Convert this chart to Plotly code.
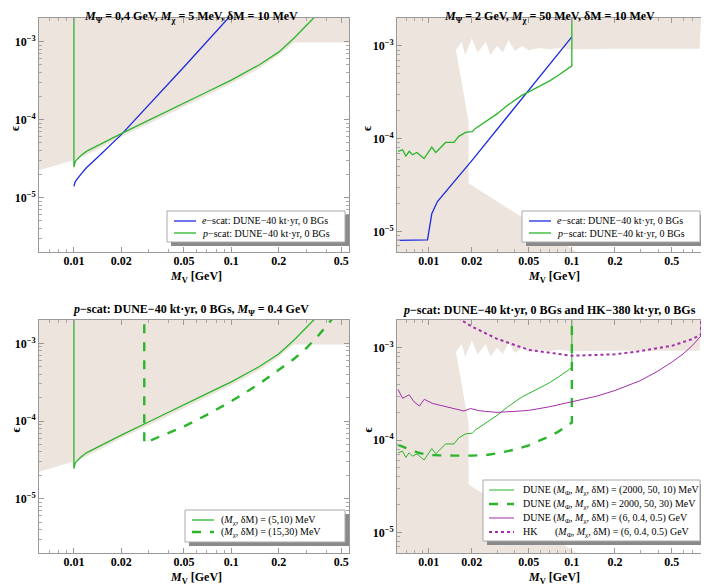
import math
import plotly.graph_objects as go

# ---------------- data ----------------
# panel 1: M_Psi = 0.4 GeV, M_chi = 5 MeV, dM = 10 MeV
e1_x = [0.01, 0.0102, 0.011, 0.012, 0.014, 0.017, 0.02, 0.05, 0.1, 0.12]
e1_y = [1.39e-5, 1.6e-5, 1.95e-5, 2.4e-5, 3.2e-5, 4.6e-5, 6.4e-5, 4.7e-4, 2.2e-3, 3.3e-3]
p1_x = [0.01, 0.01, 0.0102, 0.011, 0.012, 0.014, 0.017, 0.02, 0.03, 0.05, 0.07, 0.1,
        0.15, 0.2, 0.25, 0.3, 0.35, 0.4]
p1_y = [3e-3, 2.45e-5, 2.9e-5, 3.4e-5, 3.9e-5, 4.6e-5, 5.6e-5, 6.6e-5, 9.8e-5, 1.6e-4,
        2.25e-4, 3.2e-4, 5.0e-4, 7.3e-4, 1.1e-3, 1.6e-3, 2.2e-3, 2.9e-3]

# panel 2: M_Psi = 2 GeV, M_chi = 50 MeV, dM = 10 MeV
e2_x = [0.0055, 0.0098, 0.0105, 0.0115, 0.02, 0.05, 0.1]
e2_y = [8.0e-6, 8.1e-6, 1.55e-5, 2.1e-5, 5.8e-5, 3.3e-4, 1.25e-3]
p2_x = [0.0061, 0.00656, 0.00692, 0.0073, 0.0077, 0.00826, 0.00928, 0.0105, 0.0112,
        0.0131, 0.015, 0.0162, 0.0181, 0.0201, 0.0212, 0.0249, 0.03, 0.035, 0.04, 0.045,
        0.05, 0.06, 0.07, 0.08, 0.09, 0.1, 0.1]
p2_y = [7.3e-5, 7.6e-5, 6.5e-5, 7.3e-5, 6.7e-5, 7.1e-5, 6.1e-5, 8.1e-5, 7.1e-5,
        9.1e-5, 9.1e-5, 1.06e-4, 1.17e-4, 1.19e-4, 1.29e-4, 1.52e-4, 1.85e-4, 2.25e-4,
        2.6e-4, 2.95e-4, 3.2e-4, 3.7e-4, 4.2e-4, 4.8e-4, 5.4e-4, 6.1e-4, 3e-3]

# panel 3: p-scat, M_Psi = 0.4 GeV, (M_chi, dM) = (15, 30) MeV
d3_x = [0.028, 0.028, 0.035, 0.05, 0.07, 0.1, 0.15, 0.2, 0.25, 0.3, 0.35, 0.4, 0.45, 0.5]
d3_y = [3e-3, 5.2e-5, 6.3e-5, 8.5e-5, 1.2e-4, 1.8e-4, 3.0e-4, 4.5e-4, 6.3e-4, 8.7e-4,
        1.2e-3, 1.65e-3, 2.2e-3, 2.9e-3]

# panel 4: DUNE (2000, 50, 30) MeV dashed, DUNE / HK (6, 0.4, 0.5) GeV
d4_x = [0.0061, 0.0068, 0.0075, 0.0085, 0.01, 0.012, 0.015, 0.02, 0.025, 0.03, 0.04,
        0.05, 0.06, 0.07, 0.08, 0.09, 0.1, 0.1]
d4_y = [8.9e-5, 8.3e-5, 7.8e-5, 7.3e-5, 6.9e-5, 6.8e-5, 6.8e-5, 6.8e-5, 6.9e-5, 7.2e-5,
        7.9e-5, 8.8e-5, 9.9e-5, 1.1e-4, 1.23e-4, 1.38e-4, 1.55e-4, 3e-3]
m4_x = [0.0061, 0.00656, 0.0073, 0.0079, 0.0086, 0.0093, 0.0106, 0.0124, 0.0146, 0.0176,
        0.0196, 0.0223, 0.0249, 0.03, 0.04, 0.05, 0.07, 0.1, 0.15, 0.2, 0.3, 0.4, 0.5,
        0.6, 0.7, 0.8, 0.8]
m4_y = [3.55e-4, 2.84e-4, 3.1e-4, 2.6e-4, 2.34e-4, 2.77e-4, 2.5e-4, 2.36e-4, 2.25e-4,
        2.07e-4, 2.2e-4, 2.09e-4, 2.05e-4, 2.0e-4, 2.05e-4, 2.1e-4, 2.3e-4, 2.6e-4,
        3.0e-4, 3.45e-4, 4.4e-4, 5.6e-4, 7.0e-4, 8.6e-4, 1.07e-3, 1.35e-3, 3e-3]
hk_x = [0.016, 0.02, 0.03, 0.05, 0.1, 0.2, 0.3, 0.5, 0.7, 0.8, 0.8]
hk_y = [2.1e-3, 1.7e-3, 1.25e-3, 9.5e-4, 8.2e-4, 8.5e-4, 9.2e-4, 1.05e-3, 1.25e-3,
        1.4e-3, 3e-3]

# existing limits (shaded)
bg1_x = [0.005, 0.01, 0.0105, 0.013, 0.02, 0.03, 0.05, 0.07, 0.1, 0.15, 0.2, 0.25, 0.7, 0.7, 0.005]
bg1_y = [2.0e-5, 3.0e-5, 3.1e-5, 3.8e-5, 6.0e-5, 8.8e-5, 1.45e-4, 2.05e-4, 2.9e-4,
         4.5e-4, 6.7e-4, 9.7e-4, 9.7e-4, 3e-3, 3e-3]
free_x = [0.0155, 0.017, 0.018, 0.02, 0.022, 0.025, 0.027, 0.03, 0.033, 0.036, 0.04,
          0.045, 0.05, 0.06, 0.07, 0.08, 0.1, 0.15, 0.2, 0.3, 0.5, 0.7, 0.78, 0.8, 0.82,
          1.0, 1.0, 0.13, 0.019, 0.019, 0.017]
free_y = [9e-4, 1.1e-3, 8e-4, 1.2e-3, 8.5e-4, 1.1e-3, 8e-4, 1.0e-3, 8.5e-4, 1.15e-3,
          8.8e-4, 1.0e-3, 9e-4, 9.5e-4, 9.2e-4, 9.5e-4, 9.2e-4, 9.3e-4, 9.3e-4, 9.3e-4,
          9.3e-4, 9.3e-4, 9.3e-4, 1.8e-3, 9.3e-4, 9.3e-4, 5e-6, 5e-6, 3.3e-5, 1.5e-4, 4e-4]

xticks = [0.01, 0.02, 0.05, 0.1, 0.2, 0.5]
yticks = [1e-5, 1e-4, 1e-3]
ylabels = ["10<sup>−5</sup>", "10<sup>−4</sup>", "10<sup>−3</sup>"]

BEIGE = "#EDE4DD"
BLUE = "#1C2BE0"
GREEN = "#2BB52B"
PURPLE = "#A12FA8"
FONT = "Liberation Serif"

fig = go.Figure()

def shade(ax, xs, ys, color):
    fig.add_trace(go.Scatter(x=xs, y=ys, fill="toself", fillcolor=color, mode="lines",
                             line=dict(width=0), hoverinfo="skip", showlegend=False,
                             xaxis="x" + ax, yaxis="y" + ax))

def curve(ax, xs, ys, color, name, dash="solid", width=1.3):
    fig.add_trace(go.Scatter(x=xs, y=ys, mode="lines", name=name, showlegend=False,
                             line=dict(color=color, width=width, dash=dash),
                             xaxis="x" + ax, yaxis="y" + ax))
    return dict(name=name, color=color, dash=dash, width=width)

full_x = [0.005, 1.0, 1.0, 0.005]
full_y = [5e-6, 5e-6, 3e-3, 3e-3]

ESCAT = "<i>e</i>−scat: DUNE−40 kt·yr, 0 BGs"
PSCAT = "<i>p</i>−scat: DUNE−40 kt·yr, 0 BGs"
TUPLE = "(<i>M</i><sub>Φ</sub>, <i>M</i><sub>χ</sub>, δM)"

# panel 1
shade("", bg1_x, bg1_y, BEIGE)
leg1 = [curve("", e1_x, e1_y, BLUE, ESCAT), curve("", p1_x, p1_y, GREEN, PSCAT)]
# panel 2
shade("2", full_x, full_y, BEIGE)
shade("2", free_x, free_y, "white")
leg2 = [curve("2", e2_x, e2_y, BLUE, ESCAT), curve("2", p2_x, p2_y, GREEN, PSCAT)]
# panel 3
shade("3", bg1_x, bg1_y, BEIGE)
leg3 = [curve("3", p1_x, p1_y, GREEN, "(<i>M</i><sub>χ</sub>, δM) = (5,10) MeV"),
        curve("3", d3_x, d3_y, GREEN, "(<i>M</i><sub>χ</sub>, δM) = (15,30) MeV",
              dash="dash", width=2.4)]
# panel 4
shade("4", full_x, full_y, BEIGE)
shade("4", free_x, free_y, "white")
leg4 = [curve("4", p2_x, p2_y, GREEN, "DUNE " + TUPLE + " = (2000, 50, 10) MeV", width=1),
        curve("4", d4_x, d4_y, GREEN, "DUNE " + TUPLE + " = 2000, 50, 30) MeV",
              dash="dash", width=2.4),
        curve("4", m4_x, m4_y, PURPLE, "DUNE " + TUPLE + " = (6, 0.4, 0.5) GeV", width=1),
        curve("4", hk_x, hk_y, PURPLE, "HK" + "\u00a0" * 7 + TUPLE + " = (6, 0.4, 0.5) GeV",
              dash="dot", width=2)]

W, H = 709, 586
OFF = 8  # the page body adds an 8 px margin around the figure
def px(x):
    return (x - OFF) / W
def py(y):
    return 1 - (y - OFF) / H

cols = [(39, 349), (397, 707)]
rows = [(18, 252), (320, 553)]
xr_left = [0.006, 0.56]
xr_right = [0.006, 0.88]
yr_left = [2e-6, 2e-3]
yr_right = [6e-6, 2e-3]

minor_x = [0.006, 0.007, 0.008, 0.009, 0.03, 0.04, 0.06, 0.07, 0.08, 0.09,
           0.3, 0.4, 0.6, 0.7, 0.8, 0.9]
minor_y = [m * 10.0 ** k for k in range(-6, -2) for m in range(2, 10)]

def axis_pair(n, col, row, xr, yr):
    tf = dict(family=FONT, size=12, color="black", weight="bold")
    common = dict(type="log", tickmode="array", ticks="inside", ticklen=5,
                  tickcolor="#999", showline=True, linecolor="#999", mirror="ticks",
                  showgrid=False, zeroline=False, tickfont=tf, automargin=False)
    xa = dict(common, range=[math.log10(xr[0]), math.log10(xr[1])],
              domain=[px(cols[col][0]), px(cols[col][1])], anchor="y" + n,
              tickvals=xticks, ticktext=[str(t) for t in xticks], ticklabelstandoff=-2,
              minor=dict(tickvals=minor_x, ticks="inside", ticklen=3, tickcolor="#aaa"))
    ya = dict(common, range=[math.log10(yr[0]), math.log10(yr[1])],
              domain=[py(rows[row][1]), py(rows[row][0])], anchor="x" + n,
              tickvals=yticks, ticktext=ylabels,
              minor=dict(tickvals=minor_y, ticks="inside", ticklen=3, tickcolor="#aaa"))
    return xa, ya

layout = {}
for n, col, row, xr, yr in [("", 0, 0, xr_left, yr_left), ("2", 1, 0, xr_right, yr_right),
                            ("3", 0, 1, xr_left, yr_left), ("4", 1, 1, xr_right, yr_right)]:
    xa, ya = axis_pair(n, col, row, xr, yr)
    layout["xaxis" + n] = xa
    layout["yaxis" + n] = ya

titles = [
    "<i>M</i><sub>Ψ</sub> = 0.4 GeV, <i>M</i><sub>χ</sub> = 5 MeV, δM = 10 MeV",
    "<i>M</i><sub>Ψ</sub> = 2 GeV, <i>M</i><sub>χ</sub> = 50 MeV, δM = 10 MeV",
    "<i>p</i>−scat: DUNE−40 kt·yr, 0 BGs, <i>M</i><sub>Ψ</sub> = 0.4 GeV",
    "<i>p</i>−scat: DUNE−40 kt·yr, 0 BGs and HK−380 kt·yr, 0 BGs",
]
annots = []
shapes = []
def label(text, x, y, angle=0, size=12, anchor="center"):
    annots.append(dict(text=text, x=px(x), y=py(y), xref="paper", yref="paper",
                       xanchor=anchor, yanchor="middle", showarrow=False,
                       textangle=angle, font=dict(family=FONT, size=size, color="black")))

for i, t in enumerate(titles):
    c, r = cols[i % 2], rows[i // 2]
    # the top titles can not sit higher than the page margin allows
    label("<b>" + t + "</b>", (c[0] + c[1]) / 2 - 3, 17 if i < 2 else r[0] - 10)
    label("<b><i>M</i><sub>V</sub> [GeV]</b>", (c[0] + c[1]) / 2 + 2, r[1] + 25)
    label("<b>ϵ</b>", c[0] - (24 if i % 2 == 0 else 30), (r[0] + r[1]) / 2 - 6, -90)

# legend boxes drawn like the original (white box, grey border, drop shadow)
def legend_box(box, row_y, line_x, text_x, entries):
    x0, y0, x1, y1 = box
    shapes.append(dict(type="rect", xref="paper", yref="paper", layer="above",
                       x0=px(x0 + 4), x1=px(x1 + 4), y0=py(y1 + 4), y1=py(y0 + 4),
                       fillcolor="#8a8a8a", line=dict(width=0)))
    shapes.append(dict(type="rect", xref="paper", yref="paper", layer="above",
                       x0=px(x0), x1=px(x1), y0=py(y1), y1=py(y0),
                       fillcolor="white", line=dict(color="#aaa", width=1)))
    for yy, e in zip(row_y, entries):
        shapes.append(dict(type="line", xref="paper", yref="paper", layer="above",
                           x0=px(line_x[0]), x1=px(line_x[1]), y0=py(yy), y1=py(yy),
                           line=dict(color=e["color"], width=e["width"], dash=e["dash"])))
        label(e["name"], text_x, yy, size=10, anchor="left")

legend_box((167, 211, 345, 242), [221, 233], (174, 196), 200, leg1)
legend_box((522, 211, 700, 242), [221, 233], (529, 551), 555, leg2)
legend_box((185, 510, 345, 542), [520, 532], (192, 214), 219, leg3)
legend_box((483, 480, 700, 541), [490, 504, 518, 532], (489, 514), 521, leg4)

fig.update_layout(width=W, height=H, margin=dict(l=0, r=0, t=0, b=0),
                  plot_bgcolor="white", paper_bgcolor="white", showlegend=False,
                  annotations=annots, shapes=shapes, **layout)
fig.write_html("out.html")
